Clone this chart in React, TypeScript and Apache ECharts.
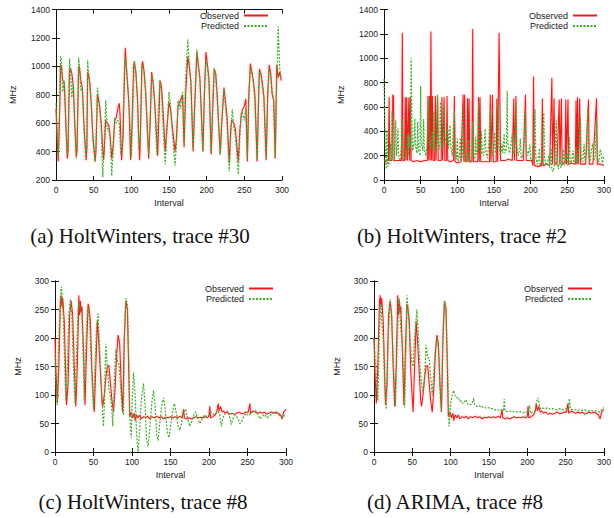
import { useEffect, useRef } from "react";
import * as echarts from "echarts";

type Pt = [number, number];

// Trace #30, HoltWinters
const trace30Observed: Pt[] = [
  [0,700],[1,560],[3,330],[5,700],[6,1000],[7,1010],[9,900],[11,880],[13,600],[15,350],[16,400],[18,980],[19,990],[21,950],[23,860],[25,600],[27,360],[28,420],[30,980],[31,1000],[33,900],[35,850],[37,600],[40,340],[41,420],[42,960],[43,950],[45,880],[47,720],[49,500],[52,330],[53,400],[55,800],[56,780],[58,720],[60,600],[63,340],[64,400],[66,620],[68,600],[70,590],[72,500],[74,350],[76,450],[78,620],[80,640],[82,700],[84,740],[85,660],[87,340],[89,500],[91,950],[92,1130],[94,950],[96,800],[97,700],[99,340],[101,600],[103,1000],[104,1030],[106,960],[108,780],[111,340],[112,500],[114,1000],[115,1035],[117,960],[119,820],[121,600],[123,350],[125,600],[127,960],[129,880],[131,740],[135,370],[137,700],[138,900],[140,860],[142,700],[145,400],[147,550],[150,750],[152,700],[154,600],[158,400],[160,500],[162,720],[165,760],[168,800],[170,430],[172,800],[175,1070],[177,1000],[179,900],[182,400],[184,700],[187,1100],[189,1010],[191,920],[195,400],[197,800],[199,1100],[201,1010],[203,920],[206,380],[208,700],[210,980],[212,950],[214,800],[218,380],[220,600],[223,850],[225,750],[227,650],[230,320],[232,560],[233,620],[236,600],[238,560],[242,330],[244,550],[246,660],[248,700],[250,720],[252,770],[254,330],[256,800],[258,1020],[260,960],[262,900],[264,800],[267,330],[269,800],[270,980],[272,950],[274,880],[276,780],[279,340],[281,800],[283,1010],[285,950],[287,800],[289,760],[291,350],[293,1010],[295,920],[297,960],[299,900]
];
const trace30Predicted: Pt[] = [
  [0,740],[1,600],[3,370],[4,500],[6,1070],[7,1060],[9,820],[11,900],[13,620],[15,380],[16,420],[18,1055],[19,1000],[21,780],[23,880],[25,560],[27,350],[28,430],[30,1060],[31,1020],[33,830],[35,850],[37,560],[40,360],[41,450],[42,1045],[43,960],[45,860],[47,720],[49,480],[52,330],[53,450],[55,850],[56,800],[58,700],[60,580],[62,220],[64,420],[66,760],[68,560],[70,560],[72,480],[74,230],[76,420],[78,640],[80,600],[82,620],[84,600],[86,380],[88,420],[91,1000],[92,1070],[94,960],[96,820],[98,600],[100,360],[102,720],[104,1040],[106,960],[108,800],[110,420],[112,500],[114,1000],[115,1010],[117,960],[119,820],[121,560],[123,380],[125,640],[127,940],[129,900],[131,760],[134,380],[136,700],[138,900],[140,820],[142,600],[145,310],[147,520],[150,820],[152,720],[154,560],[158,300],[160,460],[162,760],[165,700],[168,820],[170,450],[172,900],[175,1190],[177,1000],[179,880],[182,420],[184,720],[187,1120],[189,1000],[191,900],[195,400],[197,820],[199,1050],[201,1000],[203,880],[206,390],[208,720],[210,990],[212,940],[214,760],[218,380],[220,620],[223,840],[225,720],[227,600],[230,260],[232,520],[234,700],[236,580],[238,520],[242,240],[244,500],[246,680],[248,660],[250,620],[252,700],[254,350],[256,800],[258,1000],[260,950],[262,880],[264,760],[267,340],[269,780],[270,960],[272,940],[274,860],[276,780],[279,350],[281,780],[283,990],[285,940],[287,820],[289,760],[291,360],[293,900],[295,1280],[297,980],[299,920]
];

// Trace #2, HoltWinters
const trace2Observed: Pt[] = [
  [0,170],[2,150],[4,160],[6,160],[7,680],[8,160],[11,160],[12,700],[13,690],[14,160],[20,160],[24,160],[25,1210],[26,160],[28,160],[29,680],[30,160],[31,680],[32,160],[34,680],[35,160],[36,680],[37,160],[40,150],[45,160],[50,150],[55,160],[59,160],[60,690],[61,160],[62,690],[63,160],[64,1220],[65,160],[66,690],[67,160],[69,160],[70,690],[71,160],[73,690],[74,160],[78,160],[79,680],[80,160],[82,680],[83,160],[85,160],[86,690],[87,160],[90,150],[95,160],[96,690],[97,150],[100,140],[105,150],[108,700],[109,150],[110,700],[111,150],[113,150],[114,670],[115,150],[116,670],[117,150],[120,150],[121,1240],[122,150],[126,150],[128,150],[129,680],[130,150],[131,680],[132,150],[135,150],[140,150],[144,150],[145,700],[146,150],[148,700],[149,150],[153,150],[154,670],[155,150],[157,1210],[158,690],[159,160],[165,160],[170,170],[175,160],[177,670],[178,160],[180,690],[181,160],[185,160],[190,160],[193,700],[194,160],[198,160],[202,160],[203,120],[204,850],[205,120],[210,110],[215,120],[216,670],[217,120],[222,130],[226,120],[229,840],[230,130],[232,670],[233,130],[236,130],[239,660],[240,130],[242,670],[243,130],[247,140],[248,660],[249,130],[251,660],[252,130],[256,140],[261,130],[262,650],[263,130],[264,680],[265,130],[267,670],[268,130],[272,130],[275,130],[279,660],[280,130],[285,130],[290,670],[291,130],[295,130],[300,120]
];
const trace2Predicted: Pt[] = [
  [0,830],[2,200],[3,90],[4,410],[5,110],[7,140],[9,300],[10,160],[11,566],[12,180],[14,150],[16,490],[17,200],[18,280],[19,425],[20,200],[22,160],[24,300],[25,505],[26,220],[28,180],[30,200],[32,380],[33,200],[35,360],[36,260],[37,1000],[38,500],[39,240],[41,300],[42,505],[43,280],[45,220],[46,480],[47,250],[49,200],[50,770],[51,300],[53,240],[54,500],[55,250],[57,200],[59,300],[61,670],[62,300],[64,250],[66,400],[67,250],[68,560],[69,300],[71,220],[73,700],[74,300],[76,250],[77,640],[78,300],[80,260],[82,615],[83,350],[85,300],[87,420],[88,260],[90,450],[91,280],[93,200],[94,350],[96,570],[97,260],[99,170],[100,340],[101,150],[103,200],[104,345],[105,160],[107,200],[108,590],[109,250],[111,150],[113,180],[115,330],[116,160],[118,140],[120,220],[121,480],[122,200],[124,180],[125,355],[126,210],[128,250],[129,640],[130,280],[132,220],[133,400],[134,220],[136,200],[138,420],[139,230],[141,180],[143,300],[145,575],[146,250],[148,200],[150,280],[151,390],[152,220],[154,250],[156,640],[157,260],[159,200],[161,300],[162,220],[164,380],[165,220],[167,260],[168,730],[169,300],[171,220],[173,280],[175,380],[176,220],[178,250],[180,640],[181,280],[183,200],[185,250],[186,340],[187,180],[189,200],[191,300],[193,570],[194,260],[196,200],[198,250],[199,290],[200,160],[202,150],[204,300],[206,580],[207,200],[209,130],[211,180],[212,260],[213,120],[215,150],[218,550],[219,180],[221,120],[223,150],[225,200],[226,100],[228,260],[229,80],[231,70],[233,150],[235,490],[236,140],[238,90],[240,200],[241,100],[243,130],[245,250],[246,120],[248,160],[250,220],[251,120],[253,350],[254,140],[256,160],[258,240],[259,130],[261,160],[262,270],[263,140],[265,200],[268,510],[269,180],[271,150],[273,300],[274,160],[276,200],[278,590],[279,200],[281,150],[283,250],[285,300],[286,160],[288,180],[290,490],[291,170],[293,150],[295,250],[296,230],[298,140],[300,200]
];

// Trace #8, observed load
const trace8Observed: Pt[] = [
  [0,200],[1,150],[3,85],[5,150],[7,260],[8,275],[9,255],[10,270],[12,230],[14,130],[15,82],[17,120],[19,240],[21,265],[23,240],[25,150],[27,80],[29,150],[31,275],[32,240],[33,265],[34,245],[35,255],[37,180],[39,82],[41,180],[43,260],[44,255],[46,230],[48,140],[51,70],[53,150],[55,230],[57,190],[59,140],[61,90],[62,80],[64,100],[66,130],[68,150],[70,152],[72,120],[74,90],[76,70],[78,110],[80,170],[82,205],[84,190],[86,120],[88,70],[90,200],[92,265],[94,250],[96,130],[97,62],[99,70],[101,60],[103,68],[104,55],[106,65],[108,60],[110,65],[112,58],[115,62],[118,60],[120,63],[123,58],[126,62],[129,60],[132,63],[135,60],[138,62],[141,58],[144,61],[147,60],[150,62],[153,60],[156,62],[159,60],[162,63],[165,60],[167,75],[168,60],[171,58],[174,60],[177,58],[180,60],[183,62],[186,60],[189,61],[192,60],[195,62],[198,60],[200,63],[201,80],[202,60],[205,62],[208,65],[210,70],[212,85],[213,72],[215,80],[217,70],[219,72],[221,68],[224,70],[227,66],[230,68],[233,66],[236,68],[239,70],[242,67],[245,68],[248,70],[251,70],[253,85],[254,68],[257,72],[260,70],[263,68],[266,70],[269,68],[272,70],[275,66],[278,68],[281,70],[284,68],[287,70],[290,68],[293,65],[295,58],[297,70],[300,75]
];
// Trace #8, HoltWinters forecast
const trace8HoltWinters: Pt[] = [
  [0,170],[1,120],[3,82],[5,200],[7,270],[8,290],[9,280],[11,230],[13,140],[14,90],[16,150],[18,240],[20,268],[22,240],[24,150],[26,85],[28,170],[30,250],[31,262],[33,250],[35,240],[37,150],[38,90],[40,180],[42,250],[43,255],[45,230],[47,160],[50,75],[52,150],[54,220],[56,243],[58,180],[60,120],[62,60],[63,45],[64,80],[66,190],[68,150],[70,110],[72,100],[74,70],[75,45],[77,120],[79,180],[81,160],[83,155],[85,120],[87,75],[89,65],[90,200],[92,270],[94,260],[96,150],[97,65],[99,25],[100,80],[102,140],[104,100],[106,30],[108,0],[110,40],[112,90],[115,120],[117,80],[119,20],[121,10],[123,40],[126,90],[128,108],[130,80],[132,30],[134,20],[136,50],[139,85],[141,95],[143,75],[146,35],[148,25],[151,55],[154,80],[155,85],[158,65],[160,45],[162,38],[165,55],[168,72],[170,75],[172,60],[175,45],[178,55],[181,68],[183,70],[185,60],[188,50],[191,58],[194,65],[197,62],[200,65],[203,70],[206,66],[209,68],[212,72],[214,65],[216,45],[218,60],[221,68],[224,72],[227,60],[229,48],[231,58],[234,65],[237,60],[240,50],[242,52],[245,62],[248,68],[251,64],[255,68],[258,72],[261,72],[264,65],[266,58],[269,62],[272,66],[275,60],[278,62],[281,66],[284,70],[287,68],[290,66],[293,62],[296,60],[299,68]
];
// Trace #8, ARIMA forecast
const trace8Arima: Pt[] = [
  [0,200],[2,150],[4,110],[5,90],[7,210],[9,260],[10,235],[12,200],[14,120],[16,75],[18,180],[21,268],[23,240],[25,160],[28,80],[30,180],[32,260],[33,270],[35,215],[37,190],[40,78],[42,200],[43,275],[45,240],[47,200],[49,160],[51,150],[53,200],[56,250],[58,200],[60,150],[62,120],[64,105],[66,130],[68,188],[70,165],[72,165],[74,130],[76,100],[78,140],[80,180],[82,200],[84,185],[86,120],[88,70],[90,210],[92,265],[94,250],[96,150],[98,45],[100,85],[102,100],[104,108],[106,98],[108,95],[110,96],[112,88],[114,90],[116,85],[118,88],[120,92],[122,84],[124,85],[126,83],[128,85],[130,95],[131,84],[134,80],[137,82],[140,78],[143,80],[146,77],[149,78],[152,76],[155,76],[158,74],[161,75],[164,72],[167,73],[169,72],[170,93],[171,72],[174,71],[177,72],[180,70],[183,71],[186,70],[189,71],[192,70],[195,69],[198,70],[201,70],[203,82],[204,68],[207,70],[210,72],[212,88],[214,95],[216,80],[218,75],[221,77],[224,76],[227,78],[230,75],[233,76],[236,75],[239,74],[242,76],[245,75],[248,74],[251,76],[254,78],[255,94],[256,76],[259,74],[262,75],[265,73],[268,74],[271,73],[274,74],[277,73],[280,72],[283,73],[286,72],[289,72],[292,71],[295,70],[297,74],[300,78]
];

const captions = [
  "(a) HoltWinters, trace #30",
  "(b) HoltWinters, trace #2",
  "(c) HoltWinters, trace #8",
  "(d) ARIMA, trace #8",
];

const RED = "#ee1c1c";
const GREEN = "#3fae2a";
const INK = "#222";
const SANS = "Liberation Sans, Arial, sans-serif";
const SERIF = "Liberation Serif, Times New Roman, serif";

// legend swatches: a solid bar and a row of short dashes
const SOLID_ICON = "rect";
const DOTTED_ICON =
  "path://M0,0h2v1h-2zM3.5,0h2v1h-2zM7,0h2v1h-2zM10.5,0h2v1h-2zM14,0h2v1h-2zM17.5,0h2v1h-2zM21,0h2v1h-2z";

const panels = [
  { grid: { left: 56, top: 9.5, width: 226, height: 170.5 }, yMin: 200, yMax: 1400, yStep: 200, obs: trace30Observed, pred: trace30Predicted, yNameGap: 39, legend: { right: 345, top: 11 }, cap: [140, 236] },
  { grid: { left: 384, top: 9.5, width: 226, height: 170.5 }, yMin: 0, yMax: 1400, yStep: 200, obs: trace2Observed, pred: trace2Predicted, yNameGap: 39, legend: { right: 16, top: 11 }, cap: [462, 236] },
  { grid: { left: 55, top: 281, width: 231, height: 171 }, yMin: 0, yMax: 300, yStep: 50, obs: trace8Observed, pred: trace8HoltWinters, yNameGap: 33, legend: { right: 340, top: 284 }, cap: [143, 502] },
  { grid: { left: 374, top: 281, width: 230, height: 171 }, yMin: 0, yMax: 300, yStep: 50, obs: trace8Observed, pred: trace8Arima, yNameGap: 33, legend: { right: 21, top: 284 }, cap: [455, 502] },
];

function buildOption() {
  const grid: any[] = [];
  const xAxis: any[] = [];
  const yAxis: any[] = [];
  const series: any[] = [];
  const legend: any[] = [];
  const graphic: any[] = [];

  const line = { show: true, lineStyle: { color: "#111", width: 1 } };
  const tick = { show: true, inside: true, length: 4, lineStyle: { color: "#111", width: 1 } };
  const label = { color: INK, fontSize: 8.5, fontFamily: SANS, formatter: (v: number) => String(v) };

  panels.forEach((p, i) => {
    grid.push({ ...p.grid, containLabel: false });
    // bottom / left axes carry labels; top / right mirror the ticks
    xAxis.push({
      type: "value", gridIndex: i, min: 0, max: 300, interval: 50, position: "bottom",
      name: "Interval", nameLocation: "middle", nameGap: 18,
      nameTextStyle: { color: INK, fontSize: 9, fontFamily: SANS },
      axisLine: line, axisTick: tick, axisLabel: { ...label, margin: 5 }, splitLine: { show: false },
    });
    xAxis.push({
      type: "value", gridIndex: i, min: 0, max: 300, interval: 50, position: "top",
      axisLine: line, axisTick: tick, axisLabel: { show: false }, splitLine: { show: false },
    });
    yAxis.push({
      type: "value", gridIndex: i, min: p.yMin, max: p.yMax, interval: p.yStep, position: "left",
      name: "MHz", nameLocation: "middle", nameGap: p.yNameGap, nameRotate: 90,
      nameTextStyle: { color: INK, fontSize: 9, fontFamily: SANS },
      axisLine: line, axisTick: tick, axisLabel: { ...label, margin: 6 }, splitLine: { show: false },
    });
    yAxis.push({
      type: "value", gridIndex: i, min: p.yMin, max: p.yMax, interval: p.yStep, position: "right",
      axisLine: line, axisTick: tick, axisLabel: { show: false }, splitLine: { show: false },
    });

    series.push({
      name: "Observed", type: "line", xAxisIndex: i * 2, yAxisIndex: i * 2,
      data: p.obs, symbol: "none", z: 2, legendIcon: SOLID_ICON,
      lineStyle: { color: RED, width: 1.1, shadowColor: "rgba(255,110,110,0.5)", shadowBlur: 3 },
      itemStyle: { color: RED },
    });
    series.push({
      name: "Predicted", type: "line", xAxisIndex: i * 2, yAxisIndex: i * 2,
      data: p.pred, symbol: "none", z: 3, legendIcon: DOTTED_ICON,
      lineStyle: { color: GREEN, width: 1.2, type: [2, 1.5] },
      itemStyle: { color: GREEN },
    });

    legend.push({
      orient: "vertical", align: "right", right: p.legend.right, top: p.legend.top,
      itemWidth: 24, itemHeight: 1.4, itemGap: 1.4, padding: 0, selectedMode: false,
      data: ["Observed", "Predicted"],
      textStyle: { color: INK, fontSize: 9, fontFamily: SANS, lineHeight: 9 },
    });

    graphic.push({
      type: "text", x: p.cap[0], y: p.cap[1],
      style: { text: captions[i], align: "center", verticalAlign: "middle", fill: "#111", font: `21px ${SERIF}` },
    });
  });

  return { animation: false, backgroundColor: "#fff", grid, xAxis, yAxis, series, legend, graphic };
}

export default function App() {
  const ref = useRef<HTMLDivElement>(null);
  useEffect(() => {
    if (!ref.current) return;
    const chart = echarts.init(ref.current, undefined, { renderer: "svg" });
    chart.setOption(buildOption());
    return () => chart.dispose();
  }, []);
  return <div ref={ref} style={{ position: "absolute", left: 0, top: 0, width: 614, height: 518 }} />;
}
